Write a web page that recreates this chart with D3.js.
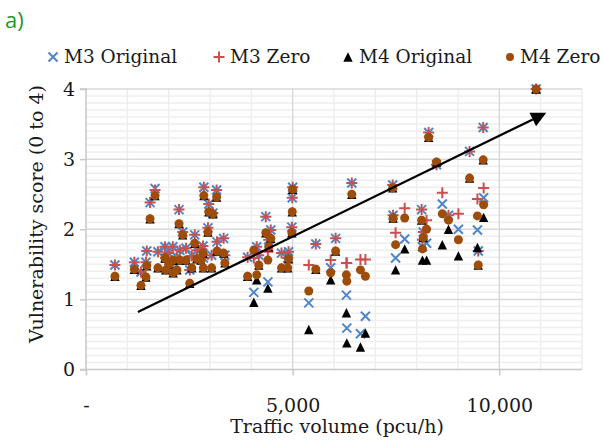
<!DOCTYPE html>
<html>
<head>
<meta charset="utf-8">
<script src="https://d3js.org/d3.v7.min.js"></script>
<style>
  html, body { margin: 0; padding: 0; background: #fff; }
  svg { display: block; }
</style>
</head>
<body>
<div id="chart"></div>
<script>
// ---------- data ----------
const traffic = [700,1170,1330,1450,1470,1550,1670,1740,1910,1930,2000,2100,2110,2200,2250,2270,2340,2420,2510,2560,2630,2680,2780,2830,2840,2850,2950,2970,3040,3070,3160,3170,3330,3360,3910,4060,4130,4180,4350,4400,4420,4470,4730,4880,4900,4980,4990,5000,5390,5560,5920,6040,6300,6310,6430,6640,6760,7420,7430,7490,7710,8120,8140,8160,8240,8290,8480,8620,8770,9010,9280,9470,9490,9610,9620,10890];
const m3Original = [1.49,1.53,1.39,1.53,1.69,2.38,2.58,1.68,1.75,1.59,1.66,1.75,1.53,1.60,2.28,1.70,1.96,1.73,1.42,1.62,1.92,1.70,1.72,1.76,1.59,2.60,2.02,2.36,1.63,2.23,2.56,1.82,1.87,1.63,1.60,1.10,1.75,1.63,2.18,1.25,1.85,1.99,1.66,1.59,1.68,2.03,2.45,2.60,0.95,1.79,1.45,1.87,1.06,0.59,2.66,0.51,0.76,2.63,2.20,1.59,1.86,2.28,1.75,1.96,1.80,3.38,2.92,2.36,2.20,2.00,3.11,1.99,1.69,3.45,2.45,4.00];
const m3Zero     = [1.49,1.53,1.39,1.53,1.69,2.38,2.56,1.68,1.75,1.59,1.66,1.75,1.53,1.60,2.28,1.70,1.96,1.73,1.42,1.62,1.92,1.70,1.72,1.76,1.59,2.60,2.02,2.36,1.63,2.23,2.56,1.82,1.87,1.63,1.60,1.59,1.75,1.63,2.18,1.68,1.85,1.99,1.66,1.59,1.68,2.03,2.45,2.60,1.49,1.79,1.56,1.87,1.52,1.52,2.66,1.57,1.57,2.63,2.20,1.95,2.30,2.28,1.85,1.96,2.13,3.38,2.92,2.52,2.20,2.22,3.11,2.43,1.69,3.45,2.59,4.00];
const m4Original = [1.33,1.43,1.20,1.32,1.48,2.15,2.48,1.45,1.59,1.42,1.50,1.56,1.38,1.42,2.08,1.56,1.92,1.56,1.23,1.45,1.80,1.58,1.56,1.66,1.45,2.48,1.96,2.25,1.45,2.22,2.46,1.69,1.66,1.52,1.33,0.96,1.28,1.49,1.95,1.16,1.75,1.87,1.45,1.45,1.58,1.95,2.25,2.57,0.57,1.43,1.28,1.69,0.81,0.38,2.50,0.32,0.52,2.59,2.16,1.42,1.72,2.13,1.56,1.88,1.56,3.31,2.96,1.78,2.00,1.62,2.73,1.74,1.49,2.99,2.17,4.00];
const m4Zero     = [1.33,1.43,1.20,1.32,1.48,2.15,2.48,1.45,1.59,1.42,1.50,1.56,1.38,1.42,2.08,1.56,1.92,1.56,1.23,1.45,1.80,1.58,1.56,1.66,1.45,2.48,1.96,2.25,1.45,2.22,2.46,1.69,1.66,1.52,1.33,1.70,1.35,1.49,1.95,1.56,1.75,1.87,1.45,1.45,1.58,1.95,2.25,2.57,1.12,1.43,1.38,1.69,1.35,1.26,2.50,1.42,1.33,2.59,2.16,1.78,2.16,2.13,1.72,1.88,2.00,3.31,2.96,2.22,2.13,1.85,2.73,2.19,1.49,2.99,2.35,4.00];

const seriesNames = ["M3 Original", "M3 Zero", "M4 Original", "M4 Zero"];
const xTicks = [0, 5000, 10000];
const xTickLabels = ["-", "5,000", "10,000"];
const yTicks = [0, 1, 2, 3, 4];
const trendArrowX = [1256, 11135];
const trendArrowY = [0.82, 3.66];

// ---------- layout ----------
const W = 603, H = 443;
const plot = { left: 86, right: 582, top: 89, bottom: 369.5 };
const FONT = "'DejaVu Serif', serif";
const colors = { m3o: "#4f86c9", m3z: "#c9504d", m4o: "#000000", m4z: "#9e4c0a" };

const svg = d3.select("#chart").append("svg").attr("width", W).attr("height", H);

const x = d3.scaleLinear().domain([0, 12000]).range([plot.left, plot.right]);
const y = d3.scaleLinear().domain([0, 4]).range([plot.bottom, plot.top]);

// minor gridlines
const g = svg.append("g");
g.selectAll("line.ymin").data(d3.range(1, 40).map(i => i / 10).filter(v => Math.abs(v - Math.round(v)) > 1e-6))
  .enter().append("line")
  .attr("x1", plot.left).attr("x2", plot.right)
  .attr("y1", d => y(d)).attr("y2", d => y(d))
  .attr("stroke", "#eeeeee").attr("stroke-width", 1.5);
g.selectAll("line.xmin").data(d3.range(1000, 12001, 1000).filter(v => v % 5000 !== 0))
  .enter().append("line")
  .attr("x1", d => x(d)).attr("x2", d => x(d))
  .attr("y1", plot.top).attr("y2", plot.bottom)
  .attr("stroke", "#eeeeee").attr("stroke-width", 1.5);
// major gridlines
g.selectAll("line.ymaj").data([1, 2, 3, 4]).enter().append("line")
  .attr("x1", plot.left).attr("x2", plot.right)
  .attr("y1", d => y(d)).attr("y2", d => y(d))
  .attr("stroke", "#d9d9d9").attr("stroke-width", 1.5);
g.selectAll("line.xmaj").data([5000, 10000]).enter().append("line")
  .attr("x1", d => x(d)).attr("x2", d => x(d))
  .attr("y1", plot.top).attr("y2", plot.bottom)
  .attr("stroke", "#d9d9d9").attr("stroke-width", 1.5);

// axes
const xAxis = d3.axisBottom(x).tickValues(xTicks).tickFormat((d, i) => xTickLabels[i]).tickSize(6).tickPadding(23);
const yAxis = d3.axisLeft(y).tickValues(yTicks).tickFormat(d3.format("d")).tickSize(6).tickPadding(5);
const gx = svg.append("g").attr("transform", `translate(0,${plot.bottom})`).call(xAxis);
const gy = svg.append("g").attr("transform", `translate(${plot.left},0)`).call(yAxis);
[gx, gy].forEach(a => {
  a.select(".domain").attr("stroke", "#c8c8c8").attr("stroke-width", 1.5);
  a.selectAll(".tick line").attr("stroke", "#c8c8c8").attr("stroke-width", 1.5);
  a.selectAll(".tick text").attr("font-family", FONT).attr("font-size", 19).attr("fill", "#1a1a1a");
});
gy.select(".domain").attr("d", `M-6,${plot.top}H0V${plot.bottom}H-6`);
gx.select(".domain").attr("d", `M${plot.left},0H${plot.right}`);

// axis titles
svg.append("text").attr("x", (plot.left + plot.right) / 2 + 3).attr("y", 433)
  .attr("text-anchor", "middle").attr("font-family", FONT).attr("font-size", 19).attr("fill", "#1a1a1a")
  .text("Traffic volume (pcu/h)");
svg.append("text").attr("transform", "translate(43,214) rotate(-90)")
  .attr("text-anchor", "middle").attr("font-family", FONT).attr("font-size", 19).attr("fill", "#1a1a1a")
  .text("Vulnerability score (0 to 4)");

// "a)"
svg.append("text").attr("x", 5).attr("y", 28).attr("font-family", "'Open Sans', 'Noto Sans', sans-serif")
  .attr("font-size", 22).attr("fill", "#1f9a1f").text("a)");

// ---------- marker shapes ----------
function cross(sel, cx, cy, s) {
  const p = `M${cx - s},${cy - s}L${cx + s},${cy + s}M${cx - s},${cy + s}L${cx + s},${cy - s}`;
  return sel.append("path").attr("d", p).attr("stroke", colors.m3o).attr("stroke-width", 2).attr("fill", "none");
}
function plus(sel, cx, cy, s) {
  const p = `M${cx - s},${cy}L${cx + s},${cy}M${cx},${cy - s}L${cx},${cy + s}`;
  return sel.append("path").attr("d", p).attr("stroke", colors.m3z).attr("stroke-width", 2).attr("fill", "none");
}
function tri(sel, cx, cy, s) {
  const p = `M${cx},${cy - s}L${cx + s},${cy + s}L${cx - s},${cy + s}Z`;
  return sel.append("path").attr("d", p).attr("fill", colors.m4o);
}
function dot(sel, cx, cy, r) {
  return sel.append("circle").attr("cx", cx).attr("cy", cy).attr("r", r).attr("fill", colors.m4z);
}

// ---------- points ----------
const marks = svg.append("g");
const gM3O = marks.append("g"), gM3Z = marks.append("g"), gM4O = marks.append("g"), gM4Z = marks.append("g");
traffic.forEach((t, i) => cross(gM3O, x(t), y(m3Original[i]), 4.5));
traffic.forEach((t, i) => plus(gM3Z, x(t), y(m3Zero[i]), 5.5));
traffic.forEach((t, i) => tri(gM4O, x(t), y(m4Original[i]), 4.7));
traffic.forEach((t, i) => dot(gM4Z, x(t), y(m4Zero[i]), 4.5));

// ---------- trend arrow ----------
const ax1 = x(trendArrowX[0]), ay1 = y(trendArrowY[0]);
const ax2 = x(trendArrowX[1]), ay2 = y(trendArrowY[1]);
const ang = Math.atan2(ay2 - ay1, ax2 - ax1);
const headLen = 15, headW = 7.5;
const bx = ax2 - headLen * Math.cos(ang), by = ay2 - headLen * Math.sin(ang);
svg.append("line").attr("x1", ax1).attr("y1", ay1).attr("x2", bx).attr("y2", by)
  .attr("stroke", "#000").attr("stroke-width", 2.2);
svg.append("path")
  .attr("d", `M${ax2},${ay2}L${bx + headW * Math.sin(ang)},${by - headW * Math.cos(ang)}L${bx - headW * Math.sin(ang)},${by + headW * Math.cos(ang)}Z`)
  .attr("fill", "#000");

// ---------- legend ----------
const leg = svg.append("g");
const legY = 57;
const legItems = [
  { sx: 53, tx: 64, draw: (s, cx, cy) => cross(s, cx, cy, 4.5) },
  { sx: 219, tx: 230, draw: (s, cx, cy) => plus(s, cx, cy, 5.5) },
  { sx: 348, tx: 359, draw: (s, cx, cy) => tri(s, cx, cy, 4.7) },
  { sx: 510, tx: 520, draw: (s, cx, cy) => dot(s, cx, cy, 4) }
];
legItems.forEach((it, i) => {
  it.draw(leg, it.sx, legY);
  leg.append("text").attr("x", it.tx).attr("y", legY).attr("dy", "0.35em")
    .attr("font-family", FONT).attr("font-size", 18.5).attr("fill", "#1a1a1a").text(seriesNames[i]);
});
</script>
</body>
</html>
